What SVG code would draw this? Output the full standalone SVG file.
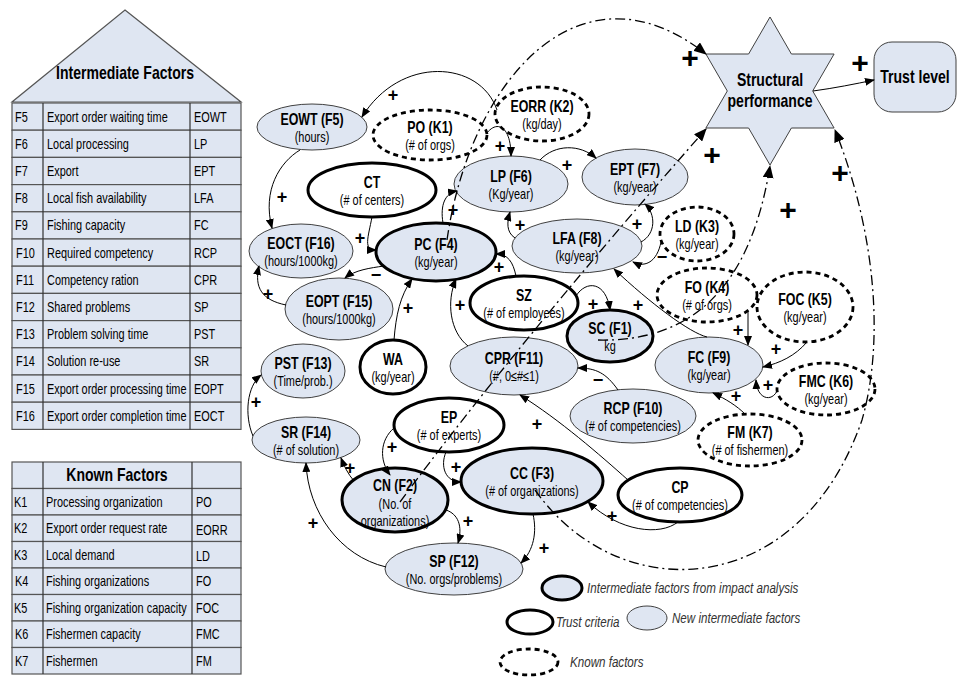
<svg xmlns="http://www.w3.org/2000/svg" width="958" height="677" viewBox="0 0 958 677">
<defs>
<marker id="ah" viewBox="0 0 10 8" refX="9" refY="4" markerWidth="10" markerHeight="8" markerUnits="userSpaceOnUse" orient="auto"><path d="M0,0 L10,4 L0,8 z" fill="#000"/></marker>
<marker id="ahb" viewBox="0 0 12 10" refX="11" refY="5" markerWidth="13" markerHeight="11" markerUnits="userSpaceOnUse" orient="auto"><path d="M0,0 L12,5 L0,10 z" fill="#000"/></marker>
<style>
.lf{fill:#dfe6f2;stroke:#404040;stroke-width:1}
.lfb{fill:#dfe6f2;stroke:#000;stroke-width:3}
.tc{fill:#fff;stroke:#000;stroke-width:3}
.kn{fill:#fff;stroke:#000;stroke-width:2.8;stroke-dasharray:5 4}
text{font-family:"Liberation Sans",Arial,sans-serif}
.t{text-anchor:middle;fill:#000}
.tt{font-size:16.5px;font-weight:bold}
.st{font-size:14px}
.big{font-size:18px;font-weight:bold}
.e{fill:none;stroke:#000;stroke-width:1;marker-end:url(#ah)}
.dd{fill:none;stroke:#000;stroke-width:1.3;stroke-dasharray:10 4 2 4;marker-end:url(#ahb)}
.pl{font-size:18px;font-weight:bold;text-anchor:middle}
.pb{font-size:30px;font-weight:bold;text-anchor:middle}
.row{fill:#dfe6f2;stroke:#555;stroke-width:1.2}
.tb{font-size:14px;fill:#000}
.lg{font-size:14.5px;font-style:italic;fill:#333}
</style>
</defs>
<rect width="958" height="677" fill="#fff"/>

<!-- intermediate factors table with roof; text is condensed horizontally to a narrow face -->
<g id="intermediate-table">
<polygon points="125,10 241,102 12,102" class="row"/>
<text class="t big" transform="translate(125,79) scale(.78,1)">Intermediate Factors</text>
<rect class="row" x="12" y="103" width="229" height="27.2"/>
<rect class="row" x="12" y="130.2" width="229" height="27.2"/>
<rect class="row" x="12" y="157.4" width="229" height="27.2"/>
<rect class="row" x="12" y="184.6" width="229" height="27.2"/>
<rect class="row" x="12" y="211.8" width="229" height="27.2"/>
<rect class="row" x="12" y="239" width="229" height="27.2"/>
<rect class="row" x="12" y="266.2" width="229" height="27.2"/>
<rect class="row" x="12" y="293.4" width="229" height="27.2"/>
<rect class="row" x="12" y="320.6" width="229" height="27.2"/>
<rect class="row" x="12" y="347.8" width="229" height="27.2"/>
<rect class="row" x="12" y="375" width="229" height="27.2"/>
<rect class="row" x="12" y="402.2" width="229" height="27.2"/>
<path d="M43,103 V429.4 M190,103 V429.4" stroke="#333" stroke-width="1.2"/>
<text class="tb" transform="translate(15,121.5) scale(.78,1)">F5</text><text class="tb" transform="translate(47,121.5) scale(.78,1)">Export order waiting time</text><text class="tb" transform="translate(194,121.5) scale(.78,1)">EOWT</text>
<text class="tb" transform="translate(15,148.7) scale(.78,1)">F6</text><text class="tb" transform="translate(47,148.7) scale(.78,1)">Local processing</text><text class="tb" transform="translate(194,148.7) scale(.78,1)">LP</text>
<text class="tb" transform="translate(15,175.9) scale(.78,1)">F7</text><text class="tb" transform="translate(47,175.9) scale(.78,1)">Export</text><text class="tb" transform="translate(194,175.9) scale(.78,1)">EPT</text>
<text class="tb" transform="translate(15,203.1) scale(.78,1)">F8</text><text class="tb" transform="translate(47,203.1) scale(.78,1)">Local fish availability</text><text class="tb" transform="translate(194,203.1) scale(.78,1)">LFA</text>
<text class="tb" transform="translate(15,230.3) scale(.78,1)">F9</text><text class="tb" transform="translate(47,230.3) scale(.78,1)">Fishing capacity</text><text class="tb" transform="translate(194,230.3) scale(.78,1)">FC</text>
<text class="tb" transform="translate(16,257.5) scale(.78,1)">F10</text><text class="tb" transform="translate(47,257.5) scale(.78,1)">Required competency</text><text class="tb" transform="translate(194,257.5) scale(.78,1)">RCP</text>
<text class="tb" transform="translate(16,284.7) scale(.78,1)">F11</text><text class="tb" transform="translate(47,284.7) scale(.78,1)">Competency ration</text><text class="tb" transform="translate(194,284.7) scale(.78,1)">CPR</text>
<text class="tb" transform="translate(16,311.9) scale(.78,1)">F12</text><text class="tb" transform="translate(47,311.9) scale(.78,1)">Shared problems</text><text class="tb" transform="translate(194,311.9) scale(.78,1)">SP</text>
<text class="tb" transform="translate(16,339.1) scale(.78,1)">F13</text><text class="tb" transform="translate(47,339.1) scale(.78,1)">Problem solving time</text><text class="tb" transform="translate(194,339.1) scale(.78,1)">PST</text>
<text class="tb" transform="translate(16,366.3) scale(.78,1)">F14</text><text class="tb" transform="translate(47,366.3) scale(.78,1)">Solution re-use</text><text class="tb" transform="translate(194,366.3) scale(.78,1)">SR</text>
<text class="tb" transform="translate(16,393.5) scale(.78,1)">F15</text><text class="tb" transform="translate(47,393.5) scale(.78,1)">Export order processing time</text><text class="tb" transform="translate(194,393.5) scale(.78,1)">EOPT</text>
<text class="tb" transform="translate(16,420.7) scale(.78,1)">F16</text><text class="tb" transform="translate(47,420.7) scale(.78,1)">Export order completion time</text><text class="tb" transform="translate(194,420.7) scale(.78,1)">EOCT</text>
</g>

<!-- known factors table -->
<g id="known-table">
<rect class="row" x="12" y="462" width="229" height="26.5"/>
<rect class="row" x="12" y="488.5" width="229" height="26.5"/>
<rect class="row" x="12" y="515" width="229" height="26.5"/>
<rect class="row" x="12" y="541.5" width="229" height="26.5"/>
<rect class="row" x="12" y="568" width="229" height="26.5"/>
<rect class="row" x="12" y="594.5" width="229" height="26.5"/>
<rect class="row" x="12" y="621" width="229" height="26.5"/>
<rect class="row" x="12" y="647.5" width="229" height="26.5"/>
<path d="M43,462 V674 M192,462 V674" stroke="#333" stroke-width="1.2"/>
<text class="t big" transform="translate(117,481) scale(.78,1)">Known Factors</text>
<text class="tb" transform="translate(14,506.5) scale(.78,1)">K1</text><text class="tb" transform="translate(46,506.5) scale(.78,1)">Processing organization</text><text class="tb" transform="translate(196,506.5) scale(.78,1)">PO</text>
<text class="tb" transform="translate(14,533) scale(.78,1)">K2</text><text class="tb" transform="translate(46,533) scale(.78,1)">Export order request rate</text><text class="tb" transform="translate(196,535) scale(.78,1)">EORR</text>
<text class="tb" transform="translate(14,559.5) scale(.78,1)">K3</text><text class="tb" transform="translate(46,559.5) scale(.78,1)">Local demand</text><text class="tb" transform="translate(196,561) scale(.78,1)">LD</text>
<text class="tb" transform="translate(15,586) scale(.78,1)">K4</text><text class="tb" transform="translate(46,586) scale(.78,1)">Fishing organizations</text><text class="tb" transform="translate(196,586) scale(.78,1)">FO</text>
<text class="tb" transform="translate(14,612.5) scale(.78,1)">K5</text><text class="tb" transform="translate(46,612.5) scale(.78,1)">Fishing organization capacity</text><text class="tb" transform="translate(196,612.5) scale(.78,1)">FOC</text>
<text class="tb" transform="translate(15,639) scale(.78,1)">K6</text><text class="tb" transform="translate(46,639) scale(.78,1)">Fishermen capacity</text><text class="tb" transform="translate(196,639) scale(.78,1)">FMC</text>
<text class="tb" transform="translate(15,665.5) scale(.78,1)">K7</text><text class="tb" transform="translate(46,665.5) scale(.78,1)">Fishermen</text><text class="tb" transform="translate(196,665.5) scale(.78,1)">FM</text>
</g>

<!-- nodes -->
<g id="eowt"><ellipse class="lf" cx="312" cy="127" rx="55" ry="23"/><text class="t tt" transform="translate(312,125) scale(.75,1)">EOWT (F5)</text><text class="t st" transform="translate(312,142) scale(.78,1)">(hours)</text></g>
<g id="po"><ellipse class="kn" cx="430" cy="135" rx="57" ry="25"/><text class="t tt" transform="translate(430,133) scale(.75,1)">PO (K1)</text><text class="t st" transform="translate(430,150) scale(.78,1)">(# of orgs)</text></g>
<g id="eorr"><ellipse class="kn" cx="542" cy="114" rx="47" ry="27"/><text class="t tt" transform="translate(542,112) scale(.75,1)">EORR (K2)</text><text class="t st" transform="translate(542,129) scale(.78,1)">(kg/day)</text></g>
<g id="ct"><ellipse class="tc" cx="372" cy="190" rx="64" ry="27"/><text class="t tt" transform="translate(372,188) scale(.75,1)">CT</text><text class="t st" transform="translate(372,205) scale(.78,1)">(# of centers)</text></g>
<g id="lp"><ellipse class="lf" cx="511" cy="184" rx="57" ry="28"/><text class="t tt" transform="translate(511,182) scale(.75,1)">LP (F6)</text><text class="t st" transform="translate(511,199) scale(.78,1)">(Kg/year)</text></g>
<g id="ept"><ellipse class="lf" cx="635" cy="177" rx="53" ry="28"/><text class="t tt" transform="translate(635,175) scale(.75,1)">EPT (F7)</text><text class="t st" transform="translate(635,192) scale(.78,1)">(kg/year)</text></g>
<g id="eoct"><ellipse class="lf" cx="301" cy="251" rx="52" ry="27"/><text class="t tt" transform="translate(301,249) scale(.75,1)">EOCT (F16)</text><text class="t st" transform="translate(301,266) scale(.78,1)">(hours/1000kg)</text></g>
<g id="pc"><ellipse class="lfb" cx="436" cy="252" rx="60" ry="29"/><text class="t tt" transform="translate(436,250) scale(.75,1)">PC (F4)</text><text class="t st" transform="translate(436,267) scale(.78,1)">(kg/year)</text></g>
<g id="lfa"><ellipse class="lf" cx="577" cy="246" rx="65" ry="27"/><text class="t tt" transform="translate(577,244) scale(.75,1)">LFA (F8)</text><text class="t st" transform="translate(577,261) scale(.78,1)">(kg/year)</text></g>
<g id="ld"><ellipse class="kn" cx="697" cy="234" rx="37" ry="27"/><text class="t tt" transform="translate(697,232) scale(.75,1)">LD (K3)</text><text class="t st" transform="translate(697,249) scale(.78,1)">(kg/year)</text></g>
<g id="fo"><ellipse class="kn" cx="707" cy="295" rx="50" ry="27"/><text class="t tt" transform="translate(707,293) scale(.75,1)">FO (K4)</text><text class="t st" transform="translate(707,310) scale(.78,1)">(# of orgs)</text></g>
<g id="foc"><ellipse class="kn" cx="805" cy="307" rx="48" ry="35"/><text class="t tt" transform="translate(805,305) scale(.75,1)">FOC (K5)</text><text class="t st" transform="translate(805,322) scale(.78,1)">(kg/year)</text></g>
<g id="eopt"><ellipse class="lf" cx="339" cy="309" rx="54" ry="31"/><text class="t tt" transform="translate(339,307) scale(.75,1)">EOPT (F15)</text><text class="t st" transform="translate(339,324) scale(.78,1)">(hours/1000kg)</text></g>
<g id="sz"><ellipse class="tc" cx="524" cy="303" rx="54" ry="27"/><text class="t tt" transform="translate(524,301) scale(.75,1)">SZ</text><text class="t st" transform="translate(524,318) scale(.78,1)">(# of employees)</text></g>
<g id="sc"><ellipse class="lfb" cx="610" cy="336" rx="43" ry="26"/><text class="t tt" transform="translate(610,334) scale(.75,1)">SC (F1)</text><text class="t st" transform="translate(610,351) scale(.78,1)">kg</text></g>
<g id="cpr"><ellipse class="lf" cx="514" cy="366" rx="64" ry="29"/><text class="t tt" transform="translate(514,364) scale(.75,1)">CPR (F11)</text><text class="t st" transform="translate(514,381) scale(.78,1)">(#, 0≤#≤1)</text></g>
<g id="fc"><ellipse class="lf" cx="709" cy="365" rx="54" ry="28"/><text class="t tt" transform="translate(709,363) scale(.75,1)">FC (F9)</text><text class="t st" transform="translate(709,380) scale(.78,1)">(kg/year)</text></g>
<g id="fmc"><ellipse class="kn" cx="826" cy="389" rx="49" ry="26"/><text class="t tt" transform="translate(826,387) scale(.75,1)">FMC (K6)</text><text class="t st" transform="translate(826,404) scale(.78,1)">(kg/year)</text></g>
<g id="pst"><ellipse class="lf" cx="303" cy="371" rx="42" ry="27"/><text class="t tt" transform="translate(303,369) scale(.75,1)">PST (F13)</text><text class="t st" transform="translate(303,386) scale(.78,1)">(Time/prob.)</text></g>
<g id="wa"><ellipse class="tc" cx="393" cy="367" rx="33" ry="27"/><text class="t tt" transform="translate(393,365) scale(.75,1)">WA</text><text class="t st" transform="translate(393,382) scale(.78,1)">(kg/year)</text></g>
<g id="rcp"><ellipse class="lf" cx="633" cy="416" rx="63" ry="27"/><text class="t tt" transform="translate(633,414) scale(.75,1)">RCP (F10)</text><text class="t st" transform="translate(633,431) scale(.78,1)">(# of competencies)</text></g>
<g id="fm"><ellipse class="kn" cx="750" cy="440" rx="52" ry="26"/><text class="t tt" transform="translate(750,438) scale(.75,1)">FM (K7)</text><text class="t st" transform="translate(750,455) scale(.78,1)">(# of fishermen)</text></g>
<g id="sr"><ellipse class="lf" cx="306" cy="440" rx="54" ry="23"/><text class="t tt" transform="translate(306,438) scale(.75,1)">SR (F14)</text><text class="t st" transform="translate(306,455) scale(.78,1)">(# of solution)</text></g>
<g id="ep"><ellipse class="tc" cx="449" cy="425" rx="55" ry="27"/><text class="t tt" transform="translate(449,423) scale(.75,1)">EP</text><text class="t st" transform="translate(449,440) scale(.78,1)">(# of experts)</text></g>
<g id="cc"><ellipse class="lfb" cx="532" cy="481" rx="71" ry="33"/><text class="t tt" transform="translate(532,479) scale(.75,1)">CC (F3)</text><text class="t st" transform="translate(532,496) scale(.78,1)">(# of organizations)</text></g>
<g id="cn"><ellipse class="lfb" cx="395" cy="500" rx="53" ry="32"/><text class="t tt" transform="translate(395,491) scale(.75,1)">CN (F2)</text><text class="t st" transform="translate(395,509) scale(.78,1)">(No. of</text><text class="t st" transform="translate(395,526) scale(.78,1)">organizations)</text></g>
<g id="cp"><ellipse class="tc" cx="680" cy="495" rx="62" ry="27"/><text class="t tt" transform="translate(680,493) scale(.75,1)">CP</text><text class="t st" transform="translate(680,510) scale(.78,1)">(# of competencies)</text></g>
<g id="sp"><ellipse class="lf" cx="454" cy="569" rx="69" ry="26"/><text class="t tt" transform="translate(454,567) scale(.75,1)">SP (F12)</text><text class="t st" transform="translate(454,584) scale(.78,1)">(No. orgs/problems)</text></g>
<g id="structural-performance"><polygon class="lf" points="770,17 791.4,54 834.1,54 812.7,91 834.1,128 791.4,128 770,165 748.6,128 705.9,128 727.3,91 705.9,54 748.6,54"/><text class="t big" transform="translate(770,86) scale(.78,1)">Structural</text><text class="t big" transform="translate(770,107) scale(.78,1)">performance</text></g>
<g id="trust-level"><rect class="lf" x="874" y="42" width="82" height="70" rx="18"/><text class="t big" transform="translate(915,83) scale(.78,1)">Trust level</text></g>

<!-- connectors: solid causal links, dash-dot links into structural performance -->
<g id="connectors">
<path class="e" d="M497,110 C480,60 400,55 362,117"/>
<path class="e" d="M487,133 C497,120 511,126 511,156"/>
<path class="e" d="M540,160 C555,144 580,144 596,158"/>
<path class="e" d="M300,150 C280,162 262,190 272,228"/>
<path class="e" d="M372,217 C368,238 363,250 376,250"/>
<path class="e" d="M443,223 C440,205 445,193 457,191"/>
<path class="e" d="M515,238 C506,232 507,222 510,212"/>
<path class="e" d="M641,242 C656,234 656,214 645,204"/>
<path class="e" d="M661,242 C657,262 645,268 633,262"/>
<path class="e" d="M576,296 C586,280 606,281 610,310"/>
<path class="e" d="M516,276 C513,262 508,254 496,254"/>
<path class="e" d="M468,346 C450,332 446,302 456,279"/>
<path class="e" d="M707,337 C690,333 650,303 614,269"/>
<path class="e" d="M748,311 L748,345"/>
<path class="e" d="M807,342 C795,356 780,363 763,367"/>
<path class="e" d="M777,391 C772,402 757,400 756,380"/>
<path class="e" d="M745,414 C737,406 726,399 713,393"/>
<path class="e" d="M618,390 C606,373 596,368 578,368"/>
<path class="e" d="M628,480 C600,455 560,420 520,395"/>
<path class="e" d="M678,522 C660,536 620,532 588,502"/>
<path class="e" d="M446,452 C440,466 445,482 461,482"/>
<path class="e" d="M394,428 C380,440 379,460 390,475"/>
<path class="e" d="M354,481 C348,474 344,466 341,458"/>
<path class="e" d="M446,510 C458,514 463,526 458,543"/>
<path class="e" d="M533,514 C537,532 534,550 521,563"/>
<path class="e" d="M386,567 C340,556 308,512 306,463"/>
<path class="e" d="M253,436 C244,415 247,386 261,375"/>
<path class="e" d="M286,305 C262,300 254,288 259,266"/>
<path class="e" d="M384,266 C370,268 355,270 345,278"/>
<path class="e" d="M394,340 C396,315 400,296 412,279"/>
<path class="e" d="M813,91 C835,88 855,84 874,80" marker-end="url(#ahb)"/>
<path class="dd" d="M447,240 C470,80 580,-45 706,54"/>
<path class="dd" d="M400,502 Q520,340 706,129"/>
<path class="dd" d="M598,340 C690,342 750,290 770,166"/>
<path class="dd" d="M535,490 C620,610 800,600 862,420 C885,340 875,230 835,130"/>
<text class="pl" x="393" y="101">+</text>
<text class="pl" x="500" y="152">+</text>
<text class="pl" x="567" y="171">+</text>
<text class="pl" x="282" y="203">+</text>
<text class="pl" x="360" y="244">+</text>
<text class="pl" x="453" y="216">+</text>
<text class="pl" x="520" y="231">+</text>
<text class="pl" x="637" y="230">+</text>
<text class="pl" x="662" y="263">−</text>
<text class="pl" x="593" y="310">+</text>
<text class="pl" x="499" y="273">+</text>
<text class="pl" x="460" y="311">+</text>
<text class="pl" x="638" y="311">+</text>
<text class="pl" x="738" y="336">+</text>
<text class="pl" x="776" y="355">+</text>
<text class="pl" x="768" y="391">+</text>
<text class="pl" x="736" y="402">+</text>
<text class="pl" x="598" y="386">−</text>
<text class="pl" x="537" y="430">+</text>
<text class="pl" x="612" y="522">+</text>
<text class="pl" x="456" y="473">+</text>
<text class="pl" x="392" y="453">+</text>
<text class="pl" x="350" y="474">+</text>
<text class="pl" x="468" y="527">+</text>
<text class="pl" x="544" y="554">+</text>
<text class="pl" x="313" y="529">+</text>
<text class="pl" x="256" y="408">+</text>
<text class="pl" x="268" y="300">+</text>
<text class="pl" x="376" y="281">−</text>
<text class="pl" x="408" y="314">+</text>
<text class="pb" x="690" y="68">+</text>
<text class="pb" x="712" y="165">+</text>
<text class="pb" x="788" y="220">+</text>
<text class="pb" x="840" y="183">+</text>
<text class="pb" x="860" y="73">+</text>
</g>

<!-- legend -->
<g id="legend">
<ellipse class="lfb" cx="562" cy="588" rx="20" ry="12"/><text class="lg" transform="translate(587,593) scale(.8,1)">Intermediate factors from impact analysis</text>
<ellipse class="tc" cx="530" cy="622" rx="23" ry="12"/><text class="lg" transform="translate(556,627) scale(.8,1)">Trust criteria</text>
<ellipse class="lf" cx="647" cy="618" rx="20" ry="12"/><text class="lg" transform="translate(672,623) scale(.8,1)">New intermediate factors</text>
<ellipse class="kn" cx="529" cy="662" rx="29" ry="13"/><text class="lg" transform="translate(570,667) scale(.8,1)">Known factors</text>
</g>
</svg>
